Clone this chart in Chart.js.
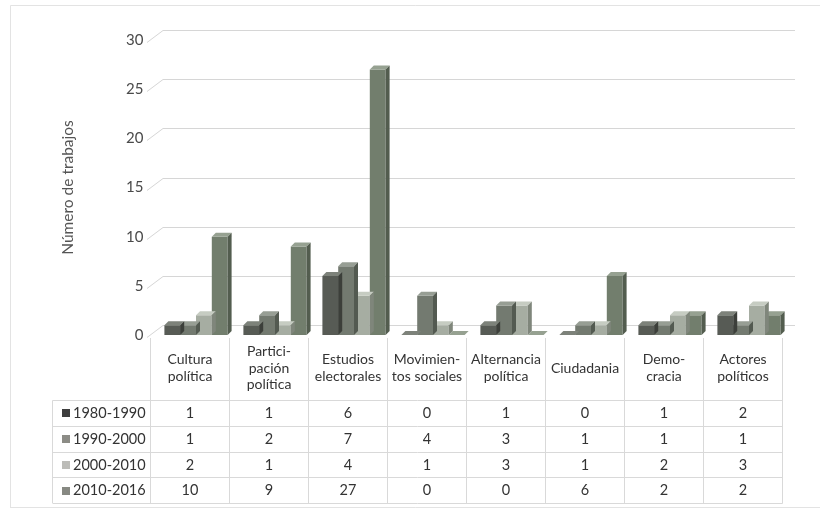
<!DOCTYPE html>
<html><head><meta charset="utf-8">
<script src="https://cdn.jsdelivr.net/npm/chart.js@4/dist/chart.umd.min.js"></script>
<style>html,body{margin:0;padding:0;background:#fff;}#wrap{position:relative;width:820px;height:513px;}</style>
</head><body><div id="wrap"><canvas id="c" width="820" height="513"></canvas></div>
<script>
const categories = [["Cultura","política"],["Partici-","pación","política"],["Estudios","electorales"],["Movimien-","tos sociales"],["Alternancia","política"],["Ciudadania"],["Demo-","cracia"],["Actores","políticos"]];
const seriesLabels = ["1980-1990","1990-2000","2000-2010","2010-2016"];
const s1980 = [1,1,6,0,1,0,1,2];
const s1990 = [1,2,7,4,3,1,1,1];
const s2000 = [2,1,4,1,3,1,2,3];
const s2010 = [10,9,27,0,0,6,2,2];
const yTicks = [0,5,10,15,20,25,30];
const yTitle = "Número de trabajos";

const barColors  = ['#575b55','#737a70','#a6ada2','#727e6d'];
const topColors  = ['#7d827a','#979e94','#c6ccc2','#96a191'];
const sideColors = ['#3c3f3a','#535a51','#7f867b','#535d4f'];
const markColors = ['#3e3e3e','#8c8c86','#bcbcb8','#878982'];
const FONT = 'Lato, "Open Sans", sans-serif';
const DEPTH = 4;

const framePlugin = {
  id:'frame',
  beforeDraw(chart){
    const ctx = chart.ctx;
    ctx.save();
    ctx.fillStyle='#fff'; ctx.fillRect(0,0,chart.width,chart.height);
    ctx.strokeStyle='#e3e3e3'; ctx.lineWidth=1;
    ctx.beginPath();
    ctx.moveTo(10.5,508); ctx.lineTo(10.5,5.5); ctx.lineTo(820,5.5);
    ctx.moveTo(10.5,507.5); ctx.lineTo(820,507.5);
    ctx.stroke();
    ctx.restore();
  }
};

const gridPlugin = {
  id:'grid3d',
  beforeDatasetsDraw(chart){
    const ys = chart.scales.y, ctx = chart.ctx;
    ctx.save();
    ctx.strokeStyle='#d6d6d6'; ctx.lineWidth=1;
    yTicks.forEach(v=>{
      const y = Math.round(ys.getPixelForValue(v));
      ctx.beginPath();
      ctx.moveTo(147, y+2.5);
      ctx.lineTo(163, y-9.5);
      ctx.lineTo(795, y-9.5);
      ctx.stroke();
    });
    ctx.restore();
  }
};

const bar3dPlugin = {
  id:'bar3d',
  afterDatasetDraw(chart, args){
    const i = args.index, ctx = chart.ctx;
    const meta = chart.getDatasetMeta(i);
    ctx.save();
    meta.data.forEach(el=>{
      const p = el.getProps(['x','y','base','width'], true);
      const l = p.x - p.width/2, r = p.x + p.width/2, t = p.y, b = p.base;
      // top face
      ctx.fillStyle = topColors[i];
      ctx.beginPath();
      ctx.moveTo(l, t); ctx.lineTo(l+DEPTH, t-DEPTH); ctx.lineTo(r+DEPTH, t-DEPTH); ctx.lineTo(r, t);
      ctx.closePath(); ctx.fill();
      // right face
      ctx.fillStyle = sideColors[i];
      ctx.beginPath();
      ctx.moveTo(r, t); ctx.lineTo(r+DEPTH, t-DEPTH); ctx.lineTo(r+DEPTH, b-DEPTH); ctx.lineTo(r, b);
      ctx.closePath(); ctx.fill();
    });
    ctx.restore();
  }
};

const tablePlugin = {
  id:'dataTable',
  afterDraw(chart){
    const xs = chart.scales.x, ctx = chart.ctx;
    const off = -6.5;
    const step = xs.getPixelForValue(1) - xs.getPixelForValue(0);
    const n = chart.data.labels.length;
    const edges = [];
    for(let i=0;i<=n;i++) edges.push(Math.round(xs.getPixelForValue(0) - step/2 + i*step + off) + 0.5);
    const tLeft = 52.5, hTop = 338, rTop = 400, rH = 25.75;
    const rows = chart.data.datasets.length;
    const tBottom = rTop + rows*rH;
    ctx.save();
    ctx.strokeStyle='#d9d9d9'; ctx.lineWidth=1;
    ctx.beginPath();
    for(let r=0;r<=rows;r++){
      const y = Math.round(rTop + r*rH)+0.5;
      ctx.moveTo(tLeft, y); ctx.lineTo(edges[n], y);
    }
    ctx.moveTo(tLeft, rTop+0.5); ctx.lineTo(tLeft, tBottom);
    edges.forEach(x=>{ ctx.moveTo(x, hTop); ctx.lineTo(x, Math.round(tBottom)+0.5); });
    ctx.stroke();
    ctx.fillStyle='#333'; ctx.textAlign='center'; ctx.textBaseline='middle';
    ctx.font = '14px ' + FONT;
    const lh = 16.5;
    chart.data.labels.forEach((lab,i)=>{
      const lines = Array.isArray(lab)?lab:[lab];
      const cx = (edges[i]+edges[i+1])/2;
      const cy = 368;
      lines.forEach((t,k)=>{ ctx.fillText(t, cx, cy + (k-(lines.length-1)/2)*lh); });
    });
    ctx.font = '14.5px ' + FONT;
    chart.data.datasets.forEach((ds,r)=>{
      const cy = rTop + r*rH + rH/2 + 0.5;
      ds.data.forEach((v,i)=>{
        ctx.fillStyle='#333'; ctx.textAlign='center';
        ctx.fillText(String(v), (edges[i]+edges[i+1])/2, cy);
      });
      ctx.fillStyle = markColors[r];
      ctx.fillRect(62, Math.round(cy-4), 8, 8);
      ctx.fillStyle='#333'; ctx.textAlign='left';
      ctx.fillText(ds.label, 73, cy);
    });
    ctx.restore();
  }
};

const datasets = [s1980,s1990,s2000,s2010].map((d,i)=>({
  label: seriesLabels[i], data: d,
  backgroundColor: barColors[i], borderWidth: 0,
  categoryPercentage: 0.8, barPercentage: 1.0
}));

new Chart(document.getElementById('c'), {
  type:'bar',
  data:{ labels: categories, datasets },
  options:{
    responsive:false, animation:false, devicePixelRatio:1,
    layout:{ padding:{ left:0, right:31.5, top:40, bottom:178 } },
    plugins:{ legend:{display:false}, tooltip:{enabled:false} },
    scales:{
      x:{ display:false },
      y:{
        min:0, max:30,
        afterFit(s){ s.width = 156.5; },
        afterBuildTicks(s){ s.ticks = yTicks.map(v=>({value:v})); },
        grid:{ display:false, drawTicks:false },
        border:{ display:false },
        ticks:{ padding:13, color:'#4a4a4a', font:{ size:15, family:FONT } },
        title:{ display:true, text:yTitle, color:'#555', font:{ size:15.5, family:FONT }, padding:{top:59,bottom:0} }
      }
    }
  },
  plugins:[framePlugin, gridPlugin, bar3dPlugin, tablePlugin]
});
</script>
</body></html>
